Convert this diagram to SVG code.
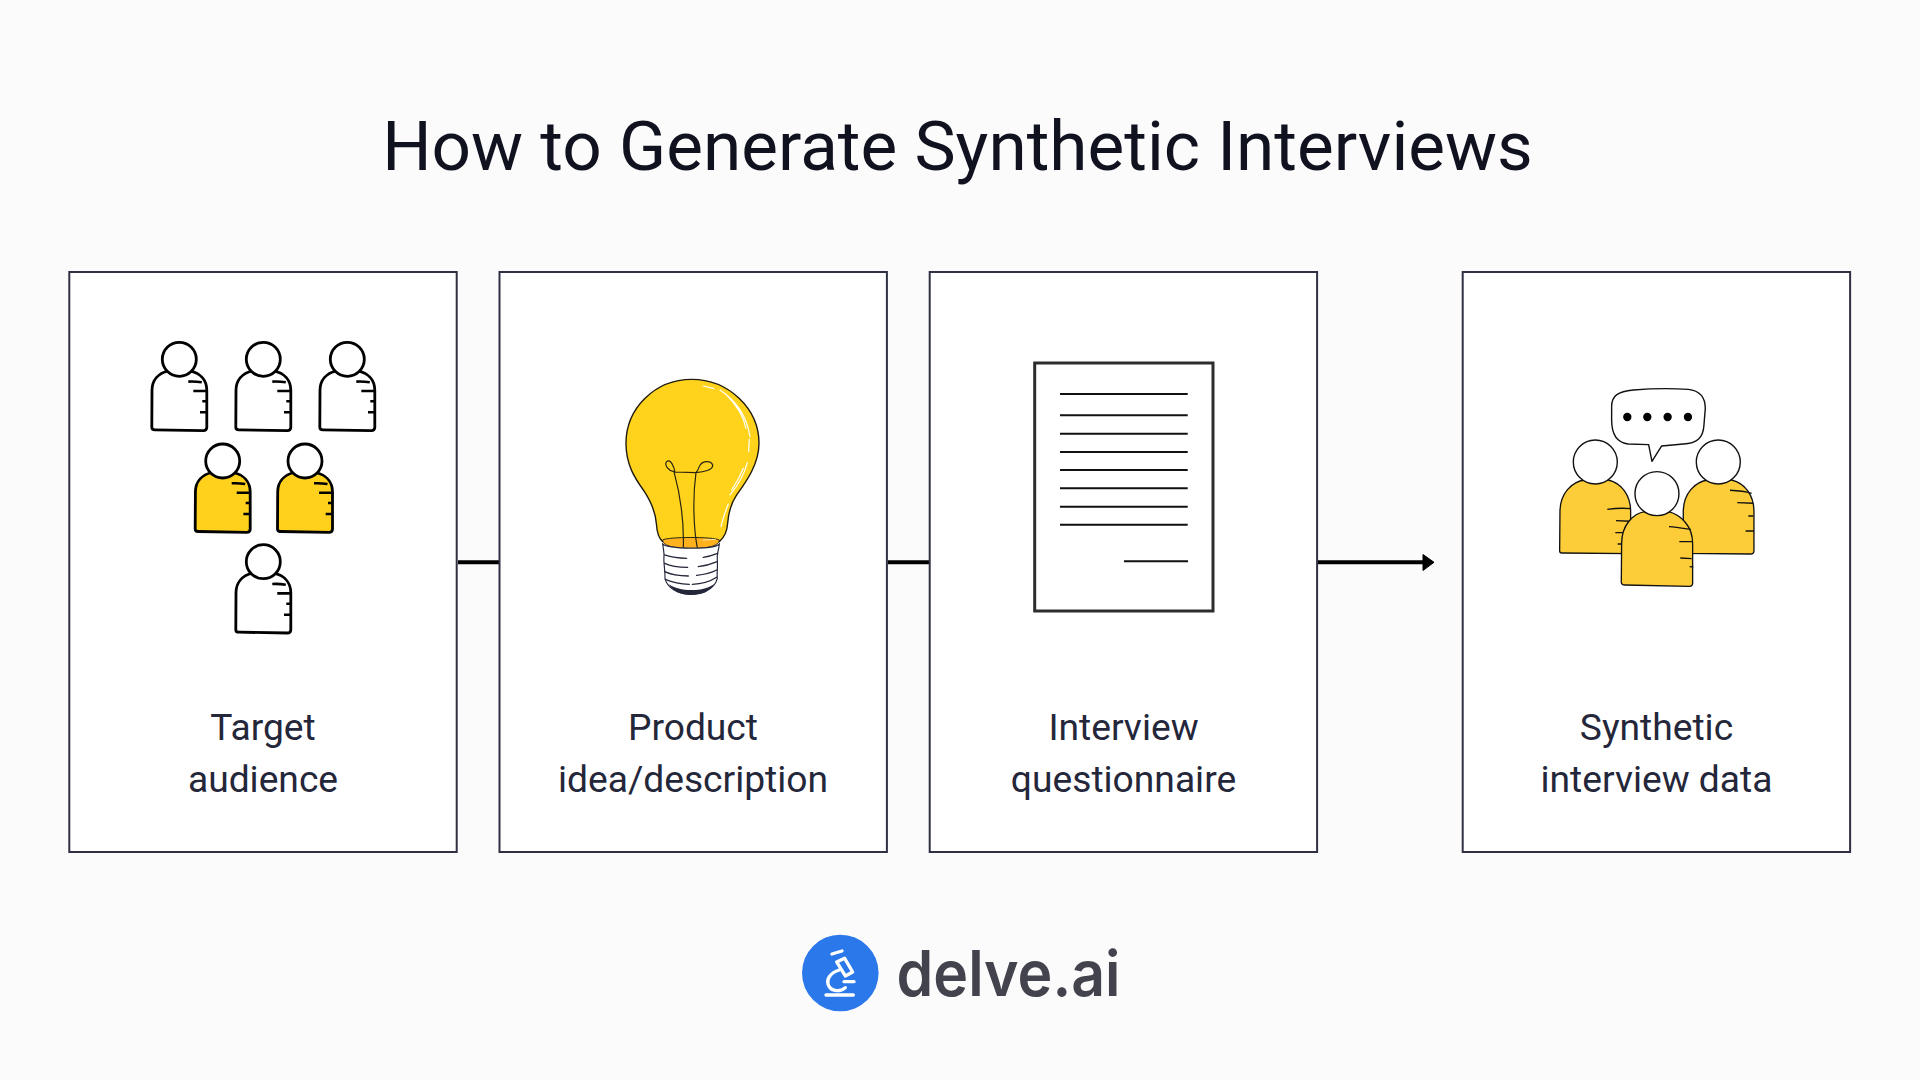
<svg xmlns="http://www.w3.org/2000/svg" width="1920" height="1080" viewBox="0 0 1920 1080">
<style>
.bg{fill:#fbfbfc}
.card{fill:#fff;stroke:#2f3044;stroke-width:2}
.title{font-family:Roboto,"Liberation Sans",sans-serif;font-size:69.300px;fill:#10121f;text-anchor:middle}
.lab{font-family:Roboto,"Liberation Sans",sans-serif;font-size:37.200px;fill:#24263a;text-anchor:middle}
.conn{stroke:#000;stroke-width:4;fill:none}
.pb{stroke:#000;stroke-width:2.8;stroke-linejoin:round;stroke-linecap:round}
.w{fill:#fff}.y{fill:#ffd01c}
.ph{fill:#fff;stroke:#000;stroke-width:2.8}
.t{stroke:#000;stroke-width:2.6;fill:none}
.docl{stroke:#111;stroke-width:2;fill:none}
.bl{fill:none;stroke:#2a2513;stroke-width:3.6}
.th{fill:none;stroke:#24263a;stroke-width:4;stroke-linecap:round}
.hl{fill:none;stroke:#fff;stroke-width:3.500;stroke-linecap:round}
.gb{fill:#fdcd39;stroke:#111;stroke-width:4;stroke-linejoin:round}
.gh{fill:#fff;stroke:#111;stroke-width:4.200}
.gt{stroke:#111;stroke-width:4.200;fill:none}
.mic{fill:none;stroke:#fff;stroke-width:10;stroke-linecap:round;stroke-linejoin:round}
</style>
<defs>
<g id="ticks">
<path class="t" d="M9,22.3C14,22 18,22.3 22.5,23M14,31.7H27M23,42H27M20.7,53H27"/>
</g>
<path id="bodyshape" d="M-27.3,31C-27.3,21 -21,14 -11,11.5L11,11.5C21,14 27.500,21 27.500,31L27.500,68C27.500,70.500 26.500,71.300 24,71.300L-24.500,70.500C-26.500,70.500 -27.500,69.500 -27.500,68Z"/>
<g id="pw"><use href="#bodyshape" class="pb w"/><circle class="ph" r="17"/><use href="#ticks"/></g>
<g id="py"><use href="#bodyshape" class="pb y"/><circle class="ph" r="17"/><use href="#ticks"/></g>
</defs>
<rect class="bg" width="1920" height="1080"/>
<text class="title" x="957.500" y="170">How to Generate Synthetic Interviews</text>
<g id="connectors">
<path class="conn" d="M458,562.300H499M888,562.300H930M1318,562.300H1426"/>
<path d="M1423,554.500L1434,562.300L1423,570.500Z" fill="#000" stroke="#000" stroke-width="1" stroke-linejoin="round"/>
</g>
<g id="node-target-audience">
<rect class="card" x="69.300" y="272" width="387.400" height="580"/>
<use href="#pw" x="179.300" y="359.300"/><use href="#pw" x="263.300" y="359.300"/><use href="#pw" x="347.300" y="359.300"/>
<use href="#py" x="222.700" y="461"/><use href="#py" x="305" y="461"/>
<use href="#pw" x="263.300" y="561.700"/>
<text class="lab" x="263" y="740">Target</text>
<text class="lab" x="263" y="792">audience</text>
</g>
<g id="node-product-idea">
<rect class="card" x="499.500" y="272" width="387.400" height="580"/>
<g transform="translate(560,340) scale(.3333)">
<path d="M395,118C505,118 597,205 597,310C597,375 555,430 530,465C510,495 505,520 503,550C501,580 490,595 478,605L308,605C298,597 291,580 289,550C286,510 270,480 250,450C225,415 198,375 198,310C198,205 285,118 395,118Z" fill="#ffd31c" stroke="#1f1b0c" stroke-width="4.200"/>
<path d="M308,600C325,590 460,590 478,600C478,615 450,626 393,626C335,626 308,615 308,600Z" fill="#ffb21e" stroke="#2a2513" stroke-width="3"/>
<path class="bl" d="M370,624C372,560 365,480 342,395C325,392 312,375 320,365C332,355 342,380 345,396L408,398C430,396 460,390 458,375C452,360 425,362 418,380C415,388 412,394 408,398C398,470 400,560 412,624"/>
<path d="M308,612C325,627 460,630 478,612C476,635 470,640 472,660C474,680 470,700 472,715C465,745 430,763 393,763C355,763 322,745 315,715C316,690 310,670 312,650C313,640 310,625 308,612Z" fill="#fff" stroke="#24263a" stroke-width="3.500"/>
<path class="th" d="M314,645C335,652 358,655 380,655M430,652C445,650 460,645 473,640M314,670C335,680 360,682 383,682M415,680C435,678 455,672 472,665M314,695C335,705 360,708 385,708M410,706C430,704 455,698 470,690M316,718C340,728 365,732 388,733M397,733C425,732 450,725 470,712"/>
<path d="M325,732C345,745 365,750 395,750C425,750 445,745 462,732C450,755 425,765 393,765C360,765 340,752 325,732Z" fill="#24263a"/>
<path class="hl" d="M430,138L462,146M480,150C525,180 560,225 570,290M500,165C530,195 550,225 558,265M568,298L566,335M562,368C555,395 535,435 510,465M550,385C540,410 525,435 515,450M505,492C495,515 488,540 483,560"/>
<path d="M430,600L466,598" stroke="#ffe9a8" stroke-width="3" fill="none" stroke-linecap="round"/>
</g>
<text class="lab" x="693" y="740">Product</text>
<text class="lab" x="693" y="792">idea/description</text>
</g>
<g id="node-interview-questionnaire">
<rect class="card" x="929.700" y="272" width="387.400" height="580"/>
<rect x="1034.700" y="363" width="178.300" height="248" fill="#fff" stroke="#2d2d2d" stroke-width="3"/>
<path class="docl" d="M1060,394H1187.700M1060,415.300H1187.700M1060,433.700H1187.700M1060,452H1187.700M1060,470H1187.700M1060,488.300H1187.700M1060,506.700H1187.700M1060,524.700H1187.700M1124,561.300H1188"/>
<text class="lab" x="1123.500" y="740">Interview</text>
<text class="lab" x="1123.500" y="792">questionnaire</text>
</g>
<g id="node-synthetic-data">
<rect class="card" x="1462.700" y="272" width="387.400" height="580"/>
<g transform="translate(1300,370) scale(.3333)">
<path d="M935,110C935,75 955,65 1000,60C1060,55 1120,55 1165,58C1200,62 1216,80 1216,115L1212,165C1210,205 1190,220 1150,222L1085,228L1056,274L1046,224L985,222C950,218 935,190 935,150Z" fill="#fff" stroke="#111" stroke-width="4.200" stroke-linejoin="round"/>
<g fill="#000"><circle cx="982" cy="141" r="12.500"/><circle cx="1042" cy="141" r="12.500"/><circle cx="1103" cy="141" r="12.500"/><circle cx="1164" cy="141" r="12.500"/></g>
<path class="gb" d="M780,425C780,370 815,335 855,330L925,330C965,340 992,375 992,425L992,551L785,549C781,549 779,546 779,542Z"/>
<path class="gb" d="M1150,425C1150,370 1185,335 1225,330L1295,330C1335,340 1362,375 1362,425L1362,542C1362,549 1358,552 1352,552L1150,550Z"/>
<path class="gt" d="M922,418C945,415 970,414 992,416M948,452L990,454M946,488L975,488M953,522L970,522M1290,361C1315,362 1338,365 1355,370M1312,398L1360,400M1345,438H1360M1337,483H1362"/>
<circle class="gh" cx="886" cy="276" r="66"/>
<circle class="gh" cx="1255" cy="276" r="66"/>
<path class="gb" d="M965,520C965,465 1000,430 1035,425L1105,425C1145,435 1178,470 1178,520L1178,640C1178,647 1174,649 1168,649L975,645C968,645 964,642 964,636Z"/>
<path class="gt" d="M1107,470C1130,472 1150,475 1172,478M1138,515H1176M1141,564L1175,566M1169,590L1180,591"/>
<circle class="gh" cx="1071" cy="371" r="66"/>
</g>
<text class="lab" x="1656.500" y="740">Synthetic</text>
<text class="lab" x="1656.500" y="792">interview data</text>
</g>
<g id="logo">
<circle cx="840.300" cy="973" r="38.300" fill="#2b78ea"/>
<g transform="translate(780,920) scale(.3333)">
<path class="mic" d="M138,225H220M192,185H222M156,102L186,93"/>
<path class="mic" d="M170,126L194,115L218,156L196,168Z"/>
<path class="mic" d="M178,150C150,158 140,178 144,192C150,214 178,218 196,203"/>
</g>
<text x="896.500" y="996" font-family="Inter,'Noto Sans',sans-serif" font-size="63" font-weight="600" fill="#43434d" textLength="224" lengthAdjust="spacingAndGlyphs">delve.ai</text>
</g>
</svg>
